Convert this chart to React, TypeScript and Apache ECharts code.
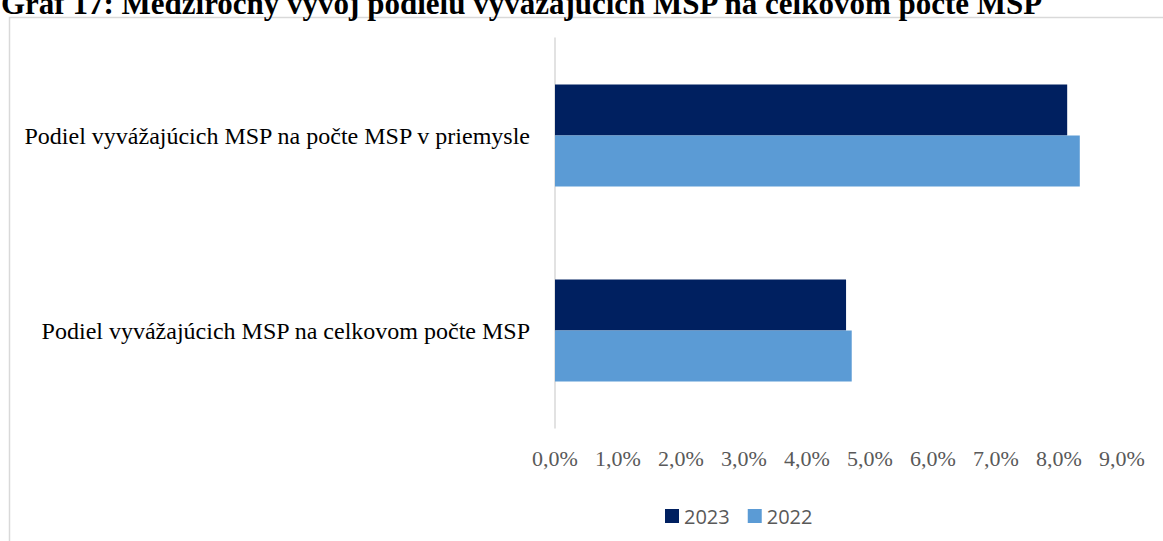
import React, { useEffect, useRef } from "react";
import * as echarts from "echarts";

const titleText = "Graf 17: Medziročný vývoj podielu vyvážajúcich MSP na celkovom počte MSP";
const categories = [
  "Podiel vyvážajúcich MSP na celkovom počte MSP",
  "Podiel vyvážajúcich MSP na počte MSP v priemysle",
];
const seriesNames = ["2023", "2022"];
const values2023 = [4.62, 8.13];
const values2022 = [4.71, 8.33];
const xTicks = { min: 0, max: 9, interval: 1 };

export default function App() {
  const ref = useRef<HTMLDivElement>(null);
  useEffect(() => {
    if (!ref.current) return;
    const chart = echarts.init(ref.current, null, { renderer: "svg" });
    const serif = "'Liberation Serif', 'Times New Roman', serif";
    chart.setOption({
      animation: false,
      backgroundColor: "#ffffff",
      graphic: [
        {
          type: "rect",
          shape: { x: 9.5, y: 17.5, width: 1300, height: 700 },
          style: { fill: "none", stroke: "#d9d9d9", lineWidth: 1.5 },
          z: 0,
        },
        {
          type: "text",
          x: 1,
          y: 19,
          style: {
            text: titleText,
            font: "bold 31px " + serif,
            fill: "#000000",
            verticalAlign: "bottom",
          },
          z: 10,
        },
      ],
      legend: {
        data: seriesNames,
        left: 660,
        top: 501,
        itemWidth: 14,
        itemHeight: 14,
        itemGap: 18,
        icon: "rect",
        textStyle: { fontFamily: "'Open Sans', sans-serif", fontSize: 20, color: "#595959" },
      },
      grid: { left: 555, right: 41, top: 38, bottom: 113, containLabel: false },
      xAxis: {
        type: "value",
        min: xTicks.min,
        max: xTicks.max,
        interval: xTicks.interval,
        axisLine: { show: false },
        axisTick: { show: false },
        splitLine: { show: false },
        axisLabel: {
          margin: 19,
          fontFamily: serif,
          fontSize: 22,
          color: "#595959",
          formatter: (v: number) => v.toFixed(1).replace(".", ",") + "%",
        },
      },
      yAxis: {
        type: "category",
        data: categories,
        axisLine: { show: true, lineStyle: { color: "#d9d9d9", width: 1.5 } },
        axisTick: { show: false },
        axisLabel: { margin: 25, fontFamily: serif, fontSize: 24, color: "#000000" },
      },
      series: [
        {
          name: "2023",
          type: "bar",
          data: values2023,
          barWidth: 51,
          barGap: "0%",
          itemStyle: { color: "#002060" },
        },
        {
          name: "2022",
          type: "bar",
          data: values2022,
          barWidth: 51,
          barGap: "0%",
          itemStyle: { color: "#5b9bd5" },
        },
      ],
    });
    return () => chart.dispose();
  }, []);
  return (
    <div
      ref={ref}
      style={{ position: "fixed", left: 0, top: 0, width: 1163, height: 541 }}
    />
  );
}
